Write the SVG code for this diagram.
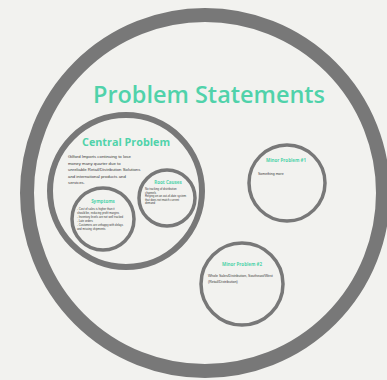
<svg xmlns="http://www.w3.org/2000/svg" width="387" height="380" viewBox="0 0 387 380">
<style>
.ring{fill:none;stroke:#787878}
.h{fill:#50d2aa;font-family:"Open Sans","Liberation Sans",sans-serif;font-weight:bold;text-anchor:middle}
.t{font-weight:600}
.b{fill:#3a3a3a;font-family:"Liberation Sans",sans-serif}
</style>
<rect width="387" height="380" fill="#f2f2ef"/>
<g id="main">
<circle class="ring" cx="205" cy="193" r="178" stroke-width="14"/>
<text class="h t" x="209" y="103" font-size="24" textLength="232" lengthAdjust="spacingAndGlyphs">Problem Statements</text>
</g>
<g id="central">
<circle class="ring" cx="126" cy="191" r="76" stroke-width="6"/>
<text class="h" x="126" y="146" font-size="11" textLength="88" lengthAdjust="spacingAndGlyphs">Central Problem</text>
<text class="b" font-size="4.3">
<tspan x="68" y="158">Gilford Imports continuing to lose</tspan>
<tspan x="68" y="164.5">money many quarter due to</tspan>
<tspan x="68" y="171">unreliable Retail/Distribution Solutions</tspan>
<tspan x="68" y="177.5">and international products and</tspan>
<tspan x="68" y="184">services.</tspan>
</text>
</g>
<g id="symptoms">
<circle class="ring" cx="103" cy="219" r="31" stroke-width="3.5"/>
<text class="h" x="103" y="203" font-size="4.5">Symptoms</text>
<text class="b" font-size="2.8">
<tspan x="77" y="210">- Cost of sales is higher than it</tspan>
<tspan x="77" y="214">should be, reducing profit margins</tspan>
<tspan x="77" y="218">- Inventory levels are not well tracked</tspan>
<tspan x="77" y="222">- Late orders</tspan>
<tspan x="77" y="226">- Customers are unhappy with delays</tspan>
<tspan x="77" y="230">and missing shipments</tspan>
</text>
</g>
<g id="rootcauses">
<circle class="ring" cx="167" cy="198" r="28" stroke-width="3.5"/>
<text class="h" x="168" y="184" font-size="4.5">Root Causes</text>
<text class="b" font-size="2.8">
<tspan x="145" y="190">No tracking of distribution</tspan>
<tspan x="145" y="193.5">channels</tspan>
<tspan x="145" y="197">Relying on an out-of-date system</tspan>
<tspan x="145" y="200.5">that does not match current</tspan>
<tspan x="145" y="204">demand</tspan>
</text>
</g>
<g id="minor1">
<circle class="ring" cx="287" cy="183" r="38" stroke-width="3.5"/>
<text class="h" x="286" y="162" font-size="4.5">Minor Problem #1</text>
<text class="b" font-size="3.5" x="258" y="175">Something more</text>
</g>
<g id="minor2">
<circle class="ring" cx="242" cy="284" r="41" stroke-width="3.5"/>
<text class="h" x="242" y="266" font-size="4.5">Minor Problem #2</text>
<text class="b" font-size="3.5">
<tspan x="208" y="277">Whole Sales/Distribution, Southeast/West</tspan>
<tspan x="208" y="282.5">(Retail/Distribution)</tspan>
</text>
</g>
<g id="connectors"/>
</svg>
